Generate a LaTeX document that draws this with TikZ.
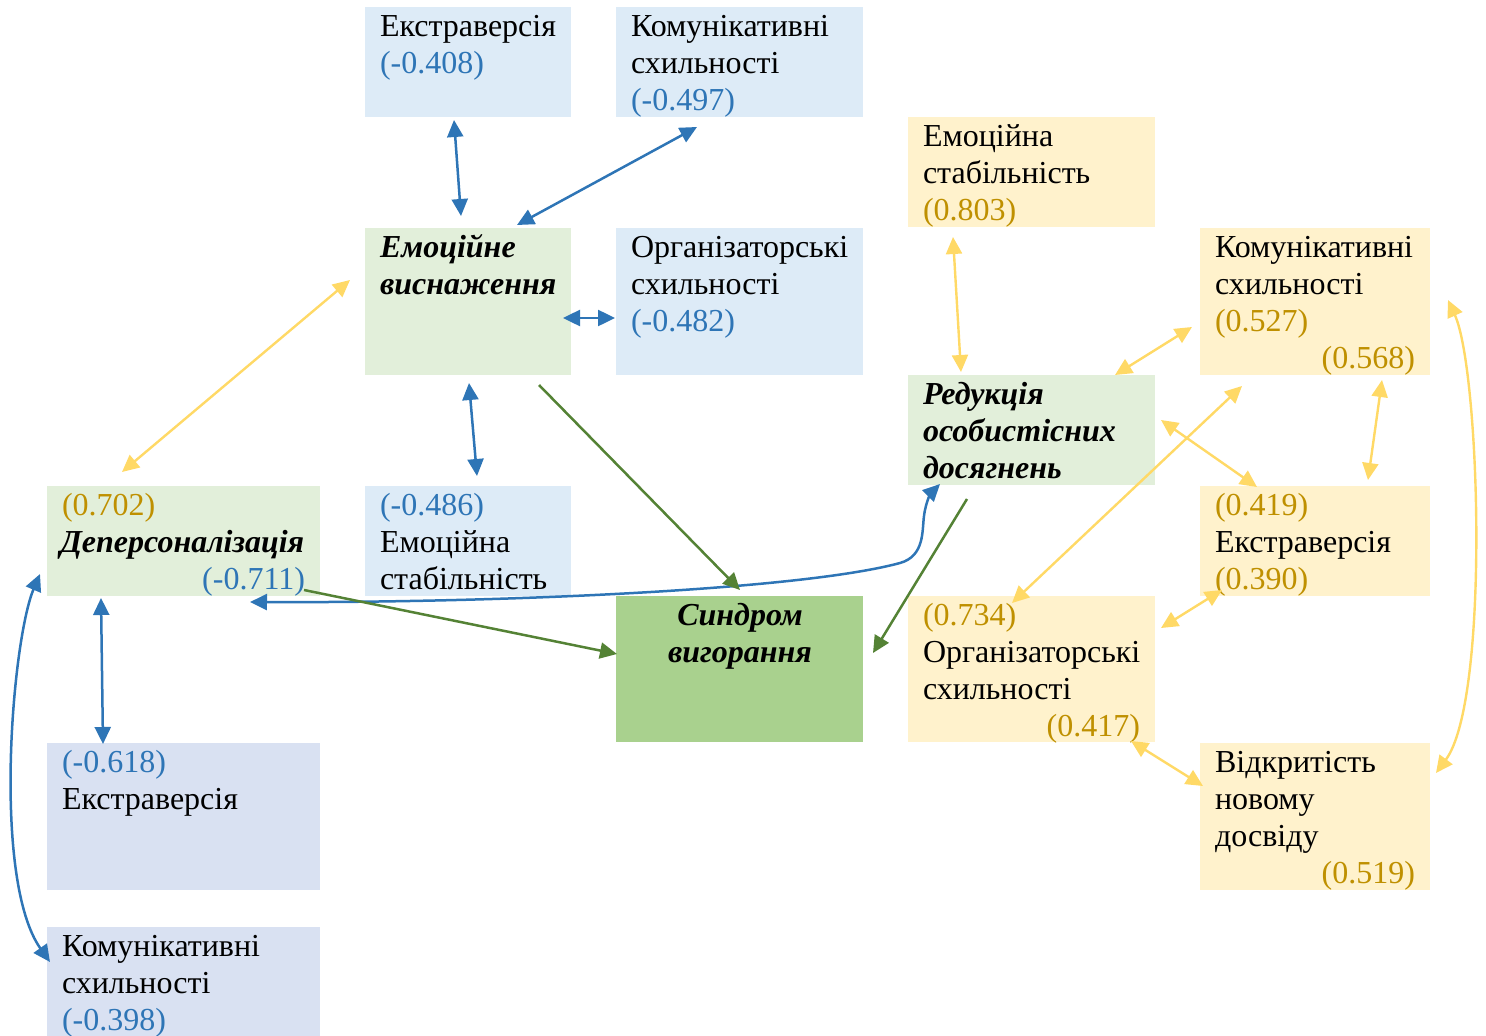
\documentclass[tikz,border=0pt]{standalone}
\usepackage{fontspec}
\setmainfont{Liberation Serif}
\usetikzlibrary{arrows.meta,calc}
\definecolor{bxblue}{HTML}{DDEBF7}
\definecolor{bxlav}{HTML}{D9E1F2}
\definecolor{bxyel}{HTML}{FFF2CC}
\definecolor{bxgrn}{HTML}{E2EFDA}
\definecolor{bxsyn}{HTML}{A9D18E}
\definecolor{tblue}{HTML}{2E75B6}
\definecolor{tgold}{HTML}{BF9000}
\definecolor{ayel}{HTML}{FFD966}
\definecolor{agrn}{HTML}{548235}
\tikzset{
  box/.style={rectangle, inner sep=0pt, outer sep=0pt, anchor=north west},
  txt/.style={inner sep=0pt, outer sep=0pt, font=\fontsize{32}{37}\selectfont, text=black},
  bi/.style={txt, font=\fontsize{32}{37}\selectfont\bfseries\itshape},
  nb/.style={txt, text=tblue},
  ng/.style={txt, text=tgold},
  barr/.style={draw=tblue, line width=2.5pt, {Triangle[length=17pt,width=16pt]}-{Triangle[length=17pt,width=16pt]}},
  yarr/.style={draw=ayel, line width=2.4pt, {Triangle[length=17pt,width=16pt]}-{Triangle[length=17pt,width=16pt]}},
  garr/.style={draw=agrn, line width=2.5pt, -{Triangle[length=17pt,width=16pt]}},
}
\begin{document}
\begin{tikzpicture}[x=1pt,y=-1pt]
\useasboundingbox (0,0) rectangle (1486,1036);
% boxes
\node[box, fill=bxblue, minimum width=206pt, minimum height=110pt] (b1) at (365,7) {};
\node[box, fill=bxblue, minimum width=247pt, minimum height=110pt] (b2) at (616,7) {};
\node[box, fill=bxgrn, minimum width=206pt, minimum height=147pt] (b3) at (365,228) {};
\node[box, fill=bxblue, minimum width=247pt, minimum height=147pt] (b4) at (616,228) {};
\node[box, fill=bxyel, minimum width=247pt, minimum height=110pt] (b5) at (908,117) {};
\node[box, fill=bxyel, minimum width=230pt, minimum height=147pt] (b6) at (1200,228) {};
\node[box, fill=bxgrn, minimum width=247pt, minimum height=110pt] (b7) at (908,375) {};
\node[box, fill=bxyel, minimum width=230pt, minimum height=110pt] (b8) at (1200,486) {};
\node[box, fill=bxyel, minimum width=247pt, minimum height=146pt] (b9) at (908,596) {};
\node[box, fill=bxyel, minimum width=230pt, minimum height=147pt] (b10) at (1200,743) {};
\node[box, fill=bxgrn, minimum width=273pt, minimum height=110pt] (b11) at (47,486) {};
\node[box, fill=bxblue, minimum width=206pt, minimum height=110pt] (b12) at (365,486) {};
\node[box, fill=bxsyn, minimum width=247pt, minimum height=146pt] (b13) at (616,596) {};
\node[box, fill=bxlav, minimum width=273pt, minimum height=147pt] (b14) at (47,743) {};
\node[box, fill=bxlav, minimum width=273pt, minimum height=115pt] (b15) at (47,927) {};
% texts
\node[txt, anchor=base west] (t1a) at (380,36) {Екстраверсія};
\node[nb, anchor=base west] (t1b) at (380,73) {(-0.408)};
\node[txt, anchor=base west] (t2a) at (631,36) {Комунікативні};
\node[txt, anchor=base west] (t2b) at (631,73) {схильності};
\node[nb, anchor=base west] (t2c) at (631,110) {(-0.497)};
\node[bi, anchor=base west] (t3a) at (380,257) {Емоційне};
\node[bi, anchor=base west] (t3b) at (380,294) {виснаження};
\node[txt, anchor=base west] (t4a) at (631,257) {Організаторські};
\node[txt, anchor=base west] (t4b) at (631,294) {схильності};
\node[nb, anchor=base west] (t4c) at (631,331) {(-0.482)};
\node[txt, anchor=base west] (t5a) at (923,146) {Емоційна};
\node[txt, anchor=base west] (t5b) at (923,183) {стабільність};
\node[ng, anchor=base west] (t5c) at (923,220) {(0.803)};
\node[txt, anchor=base west] (t6a) at (1215,257) {Комунікативні};
\node[txt, anchor=base west] (t6b) at (1215,294) {схильності};
\node[ng, anchor=base west] (t6c) at (1215,331) {(0.527)};
\node[ng, anchor=base east] (t6d) at (1415,368) {(0.568)};
\node[bi, anchor=base west] (t7a) at (923,404) {Редукція};
\node[bi, anchor=base west] (t7b) at (923,441) {особистісних};
\node[bi, anchor=base west] (t7c) at (923,478) {досягнень};
\node[ng, anchor=base west] (t8a) at (1215,515) {(0.419)};
\node[txt, anchor=base west] (t8b) at (1215,552) {Екстраверсія};
\node[ng, anchor=base west] (t8c) at (1215,589) {(0.390)};
\node[ng, anchor=base west] (t9a) at (923,625) {(0.734)};
\node[txt, anchor=base west] (t9b) at (923,662) {Організаторські};
\node[txt, anchor=base west] (t9c) at (923,699) {схильності};
\node[ng, anchor=base east] (t9d) at (1140,736) {(0.417)};
\node[txt, anchor=base west] (t10a) at (1215,772) {Відкритість};
\node[txt, anchor=base west] (t10b) at (1215,809) {новому};
\node[txt, anchor=base west] (t10c) at (1215,846) {досвіду};
\node[ng, anchor=base east] (t10d) at (1415,883) {(0.519)};
\node[ng, anchor=base west] (t11a) at (62,515) {(0.702)};
\node[bi, anchor=base west] (t11b) at (60,552) {Деперсоналізація};
\node[nb, anchor=base east] (t11c) at (305,589) {(-0.711)};
\node[nb, anchor=base west] (t12a) at (380,515) {(-0.486)};
\node[txt, anchor=base west] (t12b) at (380,552) {Емоційна};
\node[txt, anchor=base west] (t12c) at (380,589) {стабільність};
\node[bi, anchor=base] (t13a) at (740,625) {Синдром};
\node[bi, anchor=base] (t13b) at (740,662) {вигорання};
\node[nb, anchor=base west] (t14a) at (62,772) {(-0.618)};
\node[txt, anchor=base west] (t14b) at (62,809) {Екстраверсія};
\node[txt, anchor=base west] (t15a) at (62,956) {Комунікативні};
\node[txt, anchor=base west] (t15b) at (62,993) {схильності};
\node[nb, anchor=base west] (t15c) at (62,1030) {(-0.398)};
% blue connectors
\draw[barr] ($(b1.south west)+(89,3)$) -- ($(b3.north west)+(96,-12)$);
\draw[barr] ($(b2.south west)+(81,10)$) -- ($(b3.north west)+(152,-3)$);
\draw[barr] ($(b3.north east)+(-8,90)$) -- ($(b4.north west)+(-1,90)$);
\draw[barr] ($(b3.south west)+(104,8)$) -- ($(b12.north west)+(112,-10)$);
\draw[barr] ($(b11.south west)+(54,2)$) -- ($(b14.north west)+(56,1)$);
\draw[barr] ($(b11.south west)+(-7,-22)$) .. controls (12,640) and (-8,880) .. ($(b15.north west)+(3,35)$);
\draw[barr] ($(b11.south east)+(-70,6)$) .. controls (500,603) and (800,590) .. (900,563) .. controls (925,556) and (922,530) .. (924,516) .. controls (926,500) and (932,492) .. ($(b7.south west)+(32,-1)$);
% yellow connectors
\draw[yarr] ($(b11.north west)+(75,-14)$) -- ($(b3.north west)+(-15,52)$);
\draw[yarr] ($(b5.south west)+(45,10)$) -- ($(b7.north west)+(53,-3)$);
\draw[yarr] ($(b7.north east)+(-40,0)$) -- ($(b6.north west)+(-8,99)$);
\draw[yarr] ($(b7.north east)+(6,45)$) -- ($(b8.north west)+(57,1)$);
\draw[yarr] ($(b6.south west)+(42,11)$) -- ($(b9.north west)+(104,7)$);
\draw[yarr] ($(b6.south east)+(-48,5)$) -- ($(b8.north east)+(-62,-6)$);
\draw[yarr] ($(b9.north east)+(6,32)$) -- ($(b8.south west)+(22,-6)$);
\draw[yarr] ($(b9.south east)+(-24,-1)$) -- ($(b10.north west)+(3,43)$);
\draw[yarr] ($(b6.north east)+(18,72)$) .. controls (1480,370) and (1490,700) .. ($(b10.north east)+(6,30)$);
% green connectors
\draw[garr] ($(b3.south west)+(174,10)$) -- ($(b13.north west)+(124,-6)$);
\draw[garr] ($(b11.south east)+(-16,-6)$) -- ($(b13.north west)+(1,58)$);
\draw[garr] ($(b7.south west)+(59,14)$) -- ($(b13.north east)+(10,57)$);
\end{tikzpicture}
\end{document}
